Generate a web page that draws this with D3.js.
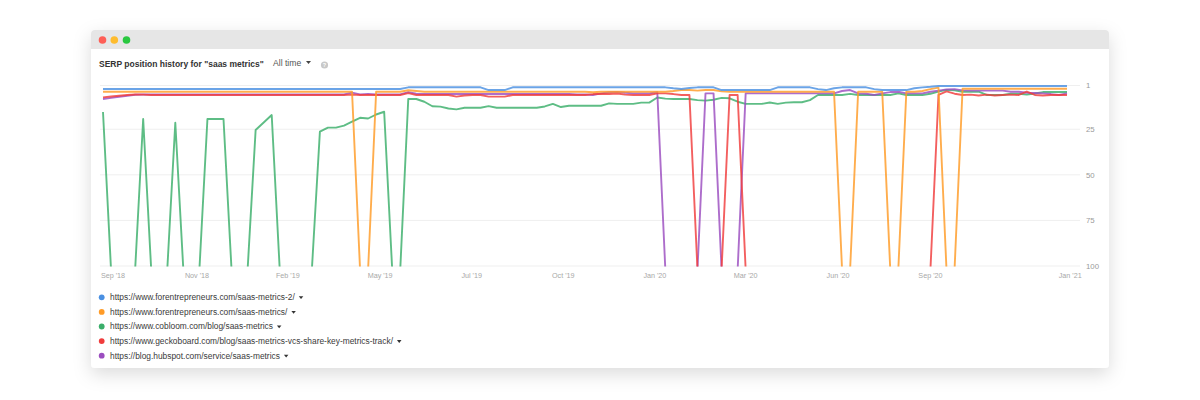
<!DOCTYPE html>
<html><head><meta charset="utf-8">
<script src="https://cdn.jsdelivr.net/npm/d3@7"></script>
<style>
body{margin:0;background:#fff;}
svg text{font-family:"Liberation Sans",Arial,Helvetica,sans-serif;}
</style>
</head><body>
<svg id="c" width="1200" height="400"></svg>
<script>
// ---------- data ----------
const seriesNames = [
  "https://www.forentrepreneurs.com/saas-metrics-2/",
  "https://www.forentrepreneurs.com/saas-metrics/",
  "https://www.cobloom.com/blog/saas-metrics",
  "https://www.geckoboard.com/blog/saas-metrics-vcs-share-key-metrics-track/",
  "https://blog.hubspot.com/service/saas-metrics"
];
const seriesColors = ["#4a90e2", "#ff9b26", "#3aae6a", "#f03c3c", "#9b4dbf"];
const yTicks = [1, 25, 50, 75, 100];
const xTickLabels = ["Sep '18","Nov '18","Feb '19","May '19","Jul '19","Oct '19","Jan '20","Mar '20","Jun '20","Sep '20","Jan '21"];
const xTickAt = [1.25, 11.7, 23.0, 34.5, 45.9, 57.3, 68.7, 80.0, 91.5, 103.0, 120.4]; // sample index of each label
// SERP positions per weekly sample (null = not ranking in top 100)
const blueVals = [
  2.9,2.9,2.9,2.9,2.9,2.9,2.9,2.9,2.9,2.9,
  2.9,2.9,2.9,2.9,2.9,2.9,2.9,2.9,2.9,2.9,
  2.9,2.9,2.9,2.9,2.9,2.9,2.9,2.9,2.9,2.9,
  2.9,2.9,2.9,2.9,2.9,2.9,2.9,2.9,2,2,
  2,2,2,2,2,2,2,2,3.5,3.5,
  3.5,2,2,2,2,2,2,2,2,2,
  2,2,2,2,2,2,2,2,2,2,
  2,2.5,2.9,2.4,2,2,2,3.5,3.5,3.5,
  3.5,3.5,3.5,3.5,2,2,2,2,2,3,
  3.5,2.5,2,2,2,2,3,3.5,3.5,3.5,
  3.5,2.5,2,1.7,1.3,1.3,1.3,1.3,1.3,1.3,
  1.3,1.3,1.3,1.3,1.3,1.3,1.3,1.3,1.3,1.3,
  1.3
];
const orangeVals = [
  4.4,4.4,4.4,4.4,4.4,4.4,4.4,4.4,4.4,4.4,
  4.4,4.4,4.4,4.4,4.4,4.4,4.4,4.4,4.4,4.4,
  4.4,4.4,4.4,4.4,4.4,4.4,4.4,4.4,4.4,4.4,
  4.4,4.4,null,null,4.4,4.4,4.4,4.4,3.6,4.0,
  4.4,4.4,4.4,4.4,4.4,4.4,4.4,4.4,4.4,4.4,
  4.4,4.4,4.4,4.4,4.4,4.4,4.4,4.4,4.4,4.4,
  4.4,4.7,4.4,4.4,4.4,4.4,4.4,4.4,4.4,4.4,
  4.4,4.0,3.5,3.5,3.8,3.5,3.5,4.2,4.4,4.4,
  4.4,4.4,4.4,4.4,4.4,4.4,4.4,4.4,4.4,4.4,
  4.4,4.4,null,null,4.4,4.4,4.4,4.4,null,null,
  4.4,4.4,4.0,3.0,2.2,null,null,2.8,2.8,2.8,
  2.8,2.8,2.8,2.8,2.8,2.8,2.8,2.8,2.8,2.8,
  2.8
];
const greenVals = [
  15.5,null,null,null,null,19.4,null,null,null,21.4,
  null,null,null,19.4,19.4,19.4,null,null,null,25.4,
  21.3,17.2,null,null,null,null,null,26.3,24.1,24.1,
  23,20.8,18.7,19.1,16.9,15.4,null,null,8.4,8.4,
  9.9,12.4,12.6,13.6,14.1,13.2,13.2,13.2,12.3,13.2,
  13.2,13.2,13.2,13.2,13.2,12.5,11.1,12.8,12.1,12.1,
  12.1,12.1,12.1,10.8,11.1,11.1,11.1,10.4,10.4,7.6,
  8.2,8.4,8.4,8.4,9,9.3,8.8,7.8,8.0,9.9,
  11.1,11.1,11.1,10.3,11.1,10.4,10.2,10.2,9,6.2,
  6.2,6.2,6.2,5.6,6.2,6.2,6.2,6.2,6.2,5.3,
  6.2,6.2,6.2,5.5,4.4,3.4,3.6,4.4,4.4,4.4,
  6.2,6.2,6.2,5.5,5.5,6.0,5.4,4.6,4.6,4.6,
  4.6
];
const redVals = [
  7.5,7.0,6.6,6.2,5.9,6.0,6.2,6.2,6.2,6.2,
  6.2,6.2,6.2,6.2,6.2,6.2,6.2,6.2,6.2,6.2,
  6.2,6.2,6.2,6.2,6.2,6.2,6.2,6.2,6.2,6.2,
  6.2,6.0,6.2,6.2,6.2,6.2,6.2,6.2,5.2,6.2,
  6.2,6.2,6.2,6.2,7.1,6.5,6.2,6.2,7.1,7.1,
  7.1,6.2,6.2,6.2,6.2,6.2,6.2,6.2,6.2,6.2,
  6.2,5.7,5.7,5.7,5.4,6.0,6.2,6.2,6.2,5.3,
  5.3,5.7,6.2,6.2,null,null,null,null,6.2,6.2,
  null,null,null,null,null,null,null,null,null,null,
  null,null,null,null,null,null,null,null,null,null,
  null,null,null,null,6.2,4.2,5.5,6.2,6.0,6.5,
  6.0,6.5,6.2,6.0,6.2,4.3,6.2,6.5,6.2,6.2,
  6.2
];
const purpleVals = [
  8.4,7.8,7.2,6.6,6.1,5.9,5.9,5.9,5.9,5.9,
  5.9,5.9,5.9,5.9,5.9,5.9,5.9,5.9,5.9,5.9,
  5.9,5.9,5.9,5.9,5.9,5.9,5.9,5.9,5.9,5.9,
  5.9,4.9,5.9,5.6,5.9,5.9,5.9,5.9,4.6,5.5,
  5.7,5.7,5.7,5.7,5.7,5.7,5.7,5.7,5.7,5.7,
  5.7,5.7,5.7,5.7,5.7,5.7,5.7,5.7,5.7,5.9,
  5.9,6.2,5.3,4.7,4.5,5.0,5.3,5.3,5.3,4.7,
  null,null,null,null,null,5.3,5.3,null,null,null,
  5.3,5.3,5.3,5.3,5.3,5.3,5.3,5.3,5.3,5.3,
  5.3,5.3,4.0,3.5,5.3,5.5,6.2,5.3,4.6,4.4,
  5.3,5.3,5.3,4.4,3.8,3.1,3.0,3.7,3.8,3.8,
  3.8,3.8,3.8,4.4,4.4,5.0,5.1,5.3,5.7,6.2,
  5.3
];
const allSeries = [blueVals, orangeVals, greenVals, redVals, purpleVals];
const drawOrder = [2, 4, 3, 1, 0];

// ---------- drawing ----------
const svg = d3.select("#c");
const defs = svg.append("defs");
const flt = defs.append("filter").attr("id","sh").attr("x","-5%").attr("y","-10%").attr("width","110%").attr("height","130%");
flt.append("feDropShadow").attr("dx",0).attr("dy",6).attr("stdDeviation",9)
  .attr("flood-color","#000").attr("flood-opacity",0.14);

// card
svg.append("rect").attr("x",91).attr("y",30).attr("width",1018).attr("height",338)
  .attr("rx",4).attr("fill","#fff").attr("filter","url(#sh)");
svg.append("path").attr("d","M91,49 V34 A4,4 0 0 1 95,30 H1105 A4,4 0 0 1 1109,34 V49 Z").attr("fill","#e6e6e6");
[["#fe5f57",102.5],["#febc2e",114.3],["#29c840",126.5]].forEach(([c,cx])=>{
  svg.append("circle").attr("cx",cx).attr("cy",40).attr("r",3.8).attr("fill",c);
});

// header
svg.append("text").attr("x",99).attr("y",67).attr("font-size",8.5).attr("font-weight","bold")
  .attr("fill","#333").text('SERP position history for "saas metrics"');
svg.append("text").attr("x",273).attr("y",66).attr("font-size",8.6).attr("fill","#555").text("All time");
svg.append("path").attr("d","M306,61 L311,61 L308.5,64 Z").attr("fill","#444");
svg.append("circle").attr("cx",324.5).attr("cy",65).attr("r",3.6).attr("fill","#c8c8c8");
svg.append("text").attr("x",324.5).attr("y",67).attr("font-size",5.5).attr("font-weight","bold")
  .attr("text-anchor","middle").attr("fill","#fff").text("?");

// scales
const x = d3.scaleLinear().domain([0, 120]).range([103, 1067]);
const y = d3.scaleLinear().domain([1, 100]).range([85.5, 266]);

// grid
svg.append("g").selectAll("line").data(yTicks).join("line")
  .attr("x1",100).attr("x2",1080).attr("y1",d=>y(d)).attr("y2",d=>y(d))
  .attr("stroke","#efefef").attr("stroke-width",1);

// y axis labels (right)
svg.append("g").selectAll("text").data(yTicks).join("text")
  .attr("x",1086).attr("y",d=>y(d)).attr("dy","0.35em")
  .attr("font-size",7.8).attr("fill","#9a9a9a").text(d=>d);

// x axis labels
svg.append("g").selectAll("text").data(xTickLabels).join("text")
  .attr("x",(d,i)=>x(xTickAt[i])).attr("y",275).attr("dy","0.35em")
  .attr("text-anchor","middle").attr("font-size",7.2).attr("fill","#a8a8a8").text(d=>d);

// clip
defs.append("clipPath").attr("id","plotclip").append("rect")
  .attr("x",95).attr("y",78).attr("width",985).attr("height",188.5);

const NOT_RANKED = 102;
const line = d3.line()
  .x((d,i)=>x(i))
  .y(d=>y(d==null ? NOT_RANKED : d));

const g = svg.append("g").attr("clip-path","url(#plotclip)");
drawOrder.forEach(k=>{
  g.append("path").datum(allSeries[k])
    .attr("d", line)
    .attr("fill","none")
    .attr("stroke", seriesColors[k])
    .attr("stroke-width", 1.9)
    .attr("stroke-opacity", 0.82)
    .attr("stroke-linejoin","round");
});

// legend
const legendY0 = 297.3, legendStep = 14.6;
const lg = svg.append("g");
seriesNames.forEach((name,i)=>{
  const yy = legendY0 + i*legendStep;
  lg.append("circle").attr("cx",101.7).attr("cy",yy).attr("r",2.9).attr("fill",seriesColors[i]);
  const t = lg.append("text").attr("x",110).attr("y",yy).attr("dy","0.35em")
    .attr("font-size",8.4).attr("fill","#3a3a3a").text(name);
  const w = t.node().getComputedTextLength();
  const ax = 110 + w + 4;
  lg.append("path").attr("d",`M${ax},${yy-1} L${ax+4.5},${yy-1} L${ax+2.25},${yy+1.8} Z`).attr("fill","#333");
});
</script>
</body></html>
